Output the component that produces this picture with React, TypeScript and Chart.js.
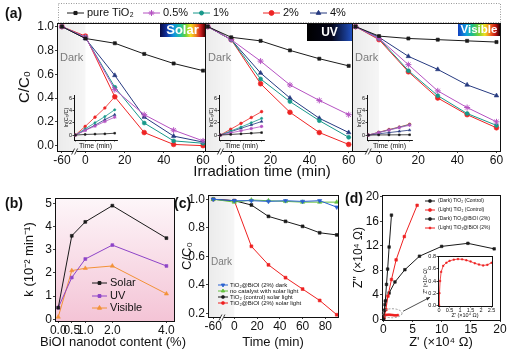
import React, { useEffect, useRef } from 'react';
import { Chart, registerables } from 'chart.js';
import { drawPoint } from 'chart.js/helpers';

Chart.register(...registerables);

const FONT = "'Liberation Sans', Arial, Helvetica, sans-serif";
Chart.defaults.font.family = FONT;
Chart.defaults.color = '#111';

// ---------------- (a) C/C0 vs irradiation time ----------------
const aTimes = [-60, 0, 15, 30, 45, 60];
const aLabels = ['pure TiO₂', '0.5%', '1%', '2%', '4%'];
const aTimeTicks = [-60, 0, 20, 40, 60];
const aTimeTicksNoNeg = [0, 20, 40, 60];
const aCTicks = [0, 0.2, 0.4, 0.6, 0.8, 1.0];

const solarPure = [1.0, 0.9, 0.86, 0.77, 0.69, 0.63];
const solar05 = [1.0, 0.91, 0.47, 0.26, 0.13, 0.04];
const solar1 = [1.0, 0.91, 0.49, 0.19, 0.04, 0.02];
const solar2 = [1.0, 0.92, 0.41, 0.11, 0.01, 0.0];
const solar4 = [1.0, 0.9, 0.59, 0.24, 0.08, 0.03];

const uvPure = [1.0, 0.91, 0.88, 0.8, 0.73, 0.67];
const uv05 = [1.0, 0.89, 0.71, 0.51, 0.38, 0.26];
const uv1 = [1.0, 0.89, 0.56, 0.37, 0.21, 0.07];
const uv2 = [1.0, 0.89, 0.52, 0.28, 0.11, 0.01];
const uv4 = [1.0, 0.89, 0.61, 0.4, 0.23, 0.11];

const visPure = [1.0, 0.92, 0.9, 0.89, 0.88, 0.87];
const vis05 = [1.0, 0.9, 0.68, 0.46, 0.32, 0.2];
const vis1 = [1.0, 0.9, 0.63, 0.42, 0.27, 0.17];
const vis2 = [1.0, 0.89, 0.62, 0.4, 0.26, 0.15];
const vis4 = [1.0, 0.91, 0.75, 0.64, 0.51, 0.42];

// (a) insets: ln(C0/C) vs time
const lnTimes = [0, 15, 30, 45, 60];
const lnTicks = [0, 2, 4, 6];
const solarLnPure = [0, 0.1, 0.15, 0.2, 0.3];
const solarLn05 = [0, 0.75, 1.45, 2.2, 2.9];
const solarLn1 = [0, 1.0, 2.0, 3.0, 4.1];
const solarLn2 = [0, 1.4, 2.9, 4.4, 6.2];
const solarLn4 = [0, 0.8, 1.6, 2.5, 3.3];
const uvLnPure = [0, 0.1, 0.2, 0.3, 0.4];
const uvLn05 = [0, 0.35, 0.7, 1.05, 1.4];
const uvLn1 = [0, 0.65, 1.3, 2.0, 2.7];
const uvLn2 = [0, 0.95, 1.9, 2.85, 3.8];
const uvLn4 = [0, 0.55, 1.1, 1.65, 2.2];
const visLnPure = [0, 0.02, 0.03, 0.04, 0.05];
const visLn05 = [0, 0.4, 0.8, 1.2, 1.6];
const visLn1 = [0, 0.42, 0.85, 1.27, 1.7];
const visLn2 = [0, 0.45, 0.9, 1.3, 1.75];
const visLn4 = [0, 0.2, 0.4, 0.6, 0.8];

// ---------------- (b) rate constant vs BiOI content ----------------
const bContent = [0, 0.5, 1, 2, 4];
const bContentTicks = [0, 0.5, 1, 2, 4];
const bKTicks = [0, 1, 2, 3, 4, 5];
const bLabels = ['Solar', 'UV', 'Visible'];
const bSolar = [0.5, 3.6, 4.2, 4.9, 3.5];
const bUV = [0.5, 1.8, 2.6, 3.2, 2.3];
const bVisible = [0.1, 2.1, 2.2, 2.3, 1.1];

// ---------------- (c) control experiments ----------------
const cTimes = [-60, 0, 15, 30, 45, 60, 75, 90];
const cTimeTicks = [-60, 0, 20, 40, 60, 80];
const cCTicks = [0.2, 0.4, 0.6, 0.8, 1.0];
const cLabels = [
  'TiO₂@BiOI (2%) dark',
  'no catalyst with solar light',
  'TiO₂ (control) solar light',
  'TiO₂@BiOI (2%) solar light',
];
const cDark = [1.0, 0.99, 0.99, 0.985, 0.99, 0.985, 0.99, 0.945];
const cNoCat = [1.0, 0.98, 0.995, 0.99, 0.985, 0.98, 0.98, 0.98];
const cTiO2 = [1.0, 0.99, 0.96, 0.88, 0.845, 0.81, 0.765, 0.75];
const cBiOI = [1.0, 0.99, 0.67, 0.54, 0.45, 0.37, 0.29, 0.19];

// ---------------- (d) Nyquist plots ----------------
const dXTicks = [0, 5, 10, 15, 20];
const dYTicks = [0, 4, 8, 12, 16, 20];
const dInsetXTicks = [0, 0.5, 1, 1.5, 2, 2.5];
const dInsetYTicks = [0, 0.2, 0.4, 0.6, 0.8];
const dLabels = ['(Dark) TiO₂ (Control)', '(Light) TiO₂ (Control)', '(Dark) TiO₂@BiOI (2%)', '(Light) TiO₂@BiOI (2%)'];
const dDarkTiO2X = [0.05, 0.2, 0.35, 0.55, 0.75, 1.0, 1.4];
const dDarkTiO2Y = [0.0, 1.5, 3.0, 5.7, 8.2, 11.8, 17.0];
const dLightTiO2X = [0.15, 0.45, 0.8, 1.4, 2.2, 3.6, 5.8];
const dLightTiO2Y = [0.3, 1.6, 3.8, 6.5, 9.7, 13.5, 18.6];
const dDarkBiOIX = [0.05, 0.3, 1.0, 2.0, 3.7, 6.2, 10.0, 14.5, 19.0];
const dDarkBiOIY = [0.0, 2.4, 4.3, 6.1, 8.1, 10.3, 11.9, 12.4, 11.5];
const dLightBiOIX = [0, 0.02, 0.05, 0.1, 0.2, 0.35, 0.5, 0.7, 0.9, 1.1, 1.3, 1.5, 1.7, 1.9, 2.1, 2.3, 2.5];
const dLightBiOIY = [0, 0.2, 0.4, 0.55, 0.65, 0.7, 0.73, 0.75, 0.76, 0.755, 0.74, 0.72, 0.69, 0.67, 0.655, 0.665, 0.7];

// ---------------- helpers ----------------
const brkA = (t: number) => (t < 0 ? t / 5 : t); // broken time axis (dark period compressed)
const brkC = (t: number) => (t < 0 ? t * 0.308 : t);

type St = { color: string; point: string; r: number; rot?: number };
const aStyles: St[] = [
  { color: '#1a1a1a', point: 'rect', r: 2.2 },
  { color: '#b552c2', point: 'star', r: 3 },
  { color: '#17988a', point: 'circle', r: 2 },
  { color: '#ee2424', point: 'circle', r: 2.4 },
  { color: '#263a80', point: 'triangle', r: 2.6 },
];

function series(label: string, xs: number[], ys: number[], st: St, xf: (v: number) => number = (v) => v, lw = 1) {
  return {
    label,
    data: xs.map((x, i) => ({ x: xf(x), y: ys[i] })),
    showLine: true,
    borderColor: st.color,
    backgroundColor: st.color,
    borderWidth: lw,
    pointStyle: st.point,
    pointRadius: st.r,
    pointHoverRadius: st.r,
    pointBorderWidth: st.point === 'star' ? 1 : 0.6,
    pointRotation: st.rot ?? 0,
  };
}

function geom(cw: number, ch: number, L: number, T: number, R: number, B: number, padL: number, padB: number) {
  return {
    layout: { autoPadding: false, padding: { left: padL, top: T, right: cw - R, bottom: padB } },
    yFit: L - padL,
    xFit: ch - padB - B,
  };
}

function mkScale(axis: 'x' | 'y', o: any) {
  const isX = axis === 'x';
  return {
    type: 'linear',
    position: isX ? 'bottom' : 'left',
    display: o.display !== false,
    min: o.min,
    max: o.max,
    afterBuildTicks: (s: any) => {
      s.ticks = o.ticks.map((v: number) => ({ value: v }));
    },
    afterFit: (s: any) => {
      if (isX) {
        s.height = o.fit;
        s.paddingLeft = 0;
        s.paddingRight = 0;
      } else {
        s.width = o.fit;
        s.paddingTop = 0;
        s.paddingBottom = 0;
      }
    },
    ticks: {
      display: o.labels !== false,
      autoSkip: false,
      maxRotation: 0,
      minRotation: 0,
      padding: o.pad ?? 1,
      font: { family: FONT, size: o.size },
      color: '#111',
      callback: (v: number) => (o.fmt ? o.fmt(v) : String(v)),
    },
    grid: { display: true, drawOnChartArea: false, drawTicks: true, tickLength: o.tl ?? 2, color: '#111', lineWidth: 0.8 },
    border: { display: !!o.border, color: '#111', width: 1 },
    title: o.title
      ? { display: true, text: o.title, font: { family: FONT, size: o.tsize }, color: '#111', padding: 0 }
      : { display: false },
  };
}

const common = {
  responsive: false,
  animation: false,
  devicePixelRatio: 1,
  events: [] as string[],
  plugins: { legend: { display: false }, tooltip: { enabled: false } },
};

const framePlugin = {
  id: 'frameBox',
  afterDatasetsDraw(chart: any) {
    const { ctx, chartArea: a } = chart;
    ctx.save();
    ctx.strokeStyle = '#111';
    ctx.lineWidth = 1;
    const l = Math.round(a.left), t = Math.round(a.top), r = Math.round(a.right), b = Math.round(a.bottom);
    ctx.strokeRect(l + 0.5, t + 0.5, r - l, b - t);
    ctx.restore();
  },
};

const whiteBg = {
  id: 'whiteBg',
  beforeDatasetsDraw(chart: any) {
    const { ctx, chartArea: a } = chart;
    ctx.save();
    ctx.fillStyle = '#fff';
    ctx.fillRect(a.left, a.top, a.right - a.left, a.bottom - a.top);
    ctx.restore();
  },
};

function textPlugin(text: string, x: number, y: number, size: number) {
  return {
    id: 'freeText',
    afterDraw(chart: any) {
      const { ctx } = chart;
      ctx.save();
      ctx.fillStyle = '#111';
      ctx.font = `${size}px ${FONT}`;
      ctx.textAlign = 'center';
      ctx.textBaseline = 'middle';
      ctx.fillText(text, x, y);
      ctx.restore();
    },
  };
}

function darkPlugin(textY: number, size: number) {
  return {
    id: 'darkZone',
    beforeDatasetsDraw(chart: any) {
      const { ctx, chartArea: a, scales } = chart;
      const x0 = scales.x.getPixelForValue(0);
      ctx.save();
      const g = ctx.createLinearGradient(a.left, 0, x0, 0);
      g.addColorStop(0, 'rgba(0,0,0,0.08)');
      g.addColorStop(1, 'rgba(0,0,0,0.035)');
      ctx.fillStyle = g;
      ctx.fillRect(a.left, a.top, x0 - a.left, a.bottom - a.top);
      ctx.fillStyle = '#7a7a7a';
      ctx.font = `${size}px ${FONT}`;
      ctx.textBaseline = 'middle';
      ctx.textAlign = 'left';
      ctx.fillText('Dark', a.left + 3, textY);
      ctx.restore();
    },
  };
}

function breakPlugin(value: number) {
  return {
    id: 'axisBreak',
    afterDraw(chart: any) {
      const { ctx, chartArea: a, scales } = chart;
      const x = scales.x.getPixelForValue(value);
      const y = Math.round(a.bottom) + 0.5;
      ctx.save();
      ctx.fillStyle = '#fff';
      ctx.fillRect(x - 2, y - 1.5, 3, 3);
      ctx.strokeStyle = '#111';
      ctx.lineWidth = 0.8;
      ctx.beginPath();
      ctx.moveTo(x - 4, y + 3);
      ctx.lineTo(x - 1, y - 3);
      ctx.moveTo(x - 1, y + 3);
      ctx.lineTo(x + 2, y - 3);
      ctx.stroke();
      ctx.restore();
    },
  };
}

function legendPlugin(o: { x: number[]; y: number[]; len: number; gap: number; size: number; rScale?: number }) {
  return {
    id: 'customLegend',
    afterDraw(chart: any) {
      const { ctx } = chart;
      chart.data.datasets.forEach((d: any, i: number) => {
        const x = o.x[i], y = o.y[i];
        ctx.save();
        ctx.strokeStyle = d.borderColor;
        ctx.lineWidth = 1;
        ctx.beginPath();
        ctx.moveTo(x, y);
        ctx.lineTo(x + o.len, y);
        ctx.stroke();
        ctx.fillStyle = d.backgroundColor;
        drawPoint(
          ctx,
          { pointStyle: d.pointStyle, radius: d.pointRadius * (o.rScale ?? 1), rotation: d.pointRotation || 0, borderWidth: d.pointBorderWidth },
          x + o.len / 2,
          y
        );
        ctx.fillStyle = '#111';
        ctx.font = `${o.size}px ${FONT}`;
        ctx.textBaseline = 'middle';
        ctx.textAlign = 'left';
        ctx.fillText(d.label, x + o.len + o.gap, y);
        ctx.restore();
      });
    },
  };
}

function bandPlugin(o: { text: string; w: number; h: number; stops: [number, string][]; size: number }) {
  return {
    id: 'band',
    afterDatasetsDraw(chart: any) {
      const { ctx, chartArea: a } = chart;
      const x1 = Math.round(a.right), x0 = x1 - o.w, y0 = Math.round(a.top);
      const g = ctx.createLinearGradient(x0, 0, x1, 0);
      o.stops.forEach(([p, c]) => g.addColorStop(p, c));
      ctx.save();
      ctx.fillStyle = g;
      ctx.fillRect(x0, y0, o.w, o.h);
      ctx.fillStyle = '#fff';
      ctx.font = `bold ${o.size}px ${FONT}`;
      ctx.textAlign = 'center';
      ctx.textBaseline = 'middle';
      ctx.fillText(o.text, x0 + o.w / 2, y0 + o.h / 2 + 0.5);
      ctx.restore();
    },
  };
}

const bands = [
  {
    text: 'Solar', w: 45, h: 14, size: 13,
    stops: [[0, '#0a0a40'], [0.15, '#1030a0'], [0.3, '#1090e0'], [0.45, '#20c0a0'], [0.56, '#60d040'], [0.68, '#f0e020'], [0.8, '#f08020'], [0.9, '#d02020'], [1, '#500000']] as [number, string][],
  },
  {
    text: 'UV', w: 45, h: 18, size: 12,
    stops: [[0, '#000000'], [0.55, '#05061a'], [1, '#2050c0']] as [number, string][],
  },
  {
    text: 'Visible', w: 42, h: 13, size: 11.5,
    stops: [[0, '#1040c0'], [0.2, '#10a0e0'], [0.35, '#20c080'], [0.5, '#80d030'], [0.64, '#f0e020'], [0.78, '#f06020'], [0.9, '#c01010'], [1, '#200000']] as [number, string][],
  },
];

const aTopPlugin = {
  id: 'aTop',
  afterDraw(chart: any) {
    const { ctx } = chart;
    ctx.save();
    ctx.setLineDash([1, 1.5]);
    ctx.strokeStyle = '#999';
    ctx.lineWidth = 1;
    ctx.strokeRect(58.5, 3.5, 442, 19);
    ctx.setLineDash([]);
    ctx.fillStyle = '#111';
    ctx.font = `15px ${FONT}`;
    ctx.textAlign = 'center';
    ctx.textBaseline = 'middle';
    ctx.fillText('Irradiation time (min)', 262, 172);
    ctx.restore();
  },
};

function panelA(kind: number, data: number[][], cw: number, ch: number, L: number, T: number, R: number, B: number, padL: number, xr: [number, number]) {
  const g = geom(cw, ch, L, T, R, B, padL, 0);
  const tv = kind === 0 ? aTimeTicks : aTimeTicksNoNeg;
  const map = new Map(tv.map((t) => [brkA(t), String(t)]));
  const plugins: any[] = [darkPlugin(57.5, 11), bandPlugin(bands[kind]), framePlugin, breakPlugin(-5)];
  if (kind === 0) {
    plugins.push(legendPlugin({ x: [67, 143, 193, 263, 310], y: [13, 13, 13, 13, 13], len: 17, gap: 3, size: 11 }));
    plugins.push(aTopPlugin);
  }
  return {
    type: 'scatter',
    data: { datasets: data.map((s, i) => series(aLabels[i], aTimes, s, aStyles[i], brkA)) },
    options: {
      ...common,
      layout: g.layout,
      scales: {
        x: mkScale('x', { min: xr[0], max: xr[1], ticks: tv.map(brkA), fmt: (v: number) => map.get(v) ?? '', size: 12, fit: g.xFit, tl: 2, pad: 0 }),
        y: mkScale('y', { display: kind === 0, min: -0.045, max: 1.03, ticks: aCTicks, fmt: (v: number) => v.toFixed(1), size: 12, fit: g.yFit, tl: 2, pad: 1, title: 'C/C₀', tsize: 15 }),
      },
    },
    plugins,
  };
}

function insetA(data: number[][], cw: number, ch: number, L: number, T: number, R: number, B: number) {
  const g = geom(cw, ch, L, T, R, B, 7, 1.8);
  return {
    type: 'scatter',
    data: {
      datasets: data.map((s, i) => series(aLabels[i], lnTimes, s, { ...aStyles[i], r: aStyles[i].r * 0.55 }, (v) => v, 0.8)),
    },
    options: {
      ...common,
      layout: g.layout,
      scales: {
        x: mkScale('x', { min: -2, max: 63.5, ticks: lnTimes, labels: false, size: 5, fit: g.xFit, tl: 1.5, title: 'Time (min)', tsize: 7, border: true }),
        y: mkScale('y', { min: -0.8, max: 6.5, ticks: lnTicks, size: 5.5, fit: g.yFit, tl: 1.5, pad: 0.5, title: 'ln(C₀/C)', tsize: 5.5, border: true }),
      },
    },
    plugins: [],
  };
}

const pinkBg = {
  id: 'pinkBg',
  beforeDatasetsDraw(chart: any) {
    const { ctx, chartArea: a } = chart;
    const g = ctx.createLinearGradient(0, a.top, 0, a.bottom);
    g.addColorStop(0, '#fdf6f9');
    g.addColorStop(1, '#f4c4d6');
    ctx.save();
    ctx.fillStyle = g;
    ctx.fillRect(a.left, a.top, a.right - a.left, a.bottom - a.top);
    ctx.restore();
  },
};

function panelB() {
  const g = geom(192, 175, 55, 20, 174, 143, 22, 3.2);
  return {
    type: 'scatter',
    data: {
      datasets: [
        series(bLabels[0], bContent, bSolar, { color: '#1a1a1a', point: 'rect', r: 2 }),
        series(bLabels[1], bContent, bUV, { color: '#8e44c8', point: 'rect', r: 2 }),
        series(bLabels[2], bContent, bVisible, { color: '#f39237', point: 'triangle', r: 2.4 }),
      ],
    },
    options: {
      ...common,
      layout: g.layout,
      scales: {
        x: mkScale('x', { min: -0.12, max: 4.28, ticks: bContentTicks, fmt: (v: number) => v.toFixed(1), size: 12, fit: g.xFit, tl: 2, pad: 0 }),
        y: mkScale('y', { min: -0.073, max: 5.23, ticks: bKTicks, fmt: (v: number) => String(v), size: 12, fit: g.yFit, tl: 2, pad: 1, title: 'k (10⁻² min⁻¹)', tsize: 13 }),
      },
    },
    plugins: [
      pinkBg,
      framePlugin,
      legendPlugin({ x: [92, 92, 92], y: [105, 118, 130], len: 15, gap: 3, size: 11 }),
      textPlugin('BiOI nanodot content (%)', 113, 164, 13),
    ],
  };
}

function panelC() {
  const g = geom(170, 175, 36, 17, 166, 139, 8, 3.2);
  const map = new Map(cTimeTicks.map((t) => [brkC(t), String(t)]));
  return {
    type: 'scatter',
    data: {
      datasets: [
        series(cLabels[0], cTimes, cDark, { color: '#2a62d0', point: 'triangle', r: 2.4, rot: 180 }, brkC),
        series(cLabels[1], cTimes, cNoCat, { color: '#62c03c', point: 'triangle', r: 2.4 }, brkC),
        series(cLabels[2], cTimes, cTiO2, { color: '#1a1a1a', point: 'rect', r: 2 }, brkC),
        series(cLabels[3], cTimes, cBiOI, { color: '#ee2020', point: 'rect', r: 2 }, brkC),
      ],
    },
    options: {
      ...common,
      layout: g.layout,
      scales: {
        x: mkScale('x', { min: -23.1, max: 91.1, ticks: cTimeTicks.map(brkC), fmt: (v: number) => map.get(v) ?? '', size: 12, fit: g.xFit, tl: 2, pad: 0, title: 'Time (min)', tsize: 13 }),
        y: mkScale('y', { min: 0.174, max: 1.03, ticks: cCTicks, fmt: (v: number) => v.toFixed(1), size: 12, fit: g.yFit, tl: 2, pad: 1, title: 'C/C₀', tsize: 13 }),
      },
    },
    plugins: [darkPlugin(84, 10), framePlugin, breakPlugin(-10), legendPlugin({ x: [46, 46, 46, 46], y: [107, 113, 119, 125], len: 10, gap: 2, size: 6, rScale: 0.8 })],
  };
}

const dExtras = {
  id: 'dExtras',
  afterDatasetsDraw(chart: any) {
    const { ctx, scales } = chart;
    const { x, y } = scales;
    const cx = x.getPixelForValue(1.5), cy = y.getPixelForValue(1.0);
    ctx.save();
    ctx.setLineDash([2, 1.5]);
    ctx.strokeStyle = '#888';
    ctx.lineWidth = 0.8;
    ctx.beginPath();
    ctx.ellipse(cx, cy, 10, 4.5, 0, 0, Math.PI * 2);
    ctx.stroke();
    ctx.setLineDash([]);
    const x0 = cx + 11, y0 = cy - 2;
    const x1 = x.getPixelForValue(8.0), y1 = y.getPixelForValue(3.6);
    ctx.strokeStyle = '#222';
    ctx.fillStyle = '#222';
    ctx.beginPath();
    ctx.moveTo(x0, y0);
    ctx.lineTo(x1, y1);
    ctx.stroke();
    const ang = Math.atan2(y1 - y0, x1 - x0);
    ctx.beginPath();
    ctx.moveTo(x1, y1);
    ctx.lineTo(x1 - 4 * Math.cos(ang - 0.4), y1 - 4 * Math.sin(ang - 0.4));
    ctx.lineTo(x1 - 4 * Math.cos(ang + 0.4), y1 - 4 * Math.sin(ang + 0.4));
    ctx.closePath();
    ctx.fill();
    ctx.restore();
  },
};

function panelD() {
  const g = geom(171, 175, 42, 17, 160, 142, 11, 3.2);
  return {
    type: 'scatter',
    data: {
      datasets: [
        series(dLabels[0], dDarkTiO2X, dDarkTiO2Y, { color: '#1a1a1a', point: 'rect', r: 1.8 }),
        series(dLabels[1], dLightTiO2X, dLightTiO2Y, { color: '#ee2020', point: 'rect', r: 1.8 }),
        series(dLabels[2], dDarkBiOIX, dDarkBiOIY, { color: '#1a1a1a', point: 'rect', r: 1.8 }),
        series(dLabels[3], dLightBiOIX, dLightBiOIY, { color: '#ee2020', point: 'rect', r: 1.2 }),
      ],
    },
    options: {
      ...common,
      layout: g.layout,
      scales: {
        x: mkScale('x', { min: -0.22, max: 20, ticks: dXTicks, size: 12, fit: g.xFit, tl: 2, pad: 0, title: "Z' (×10⁴ Ω)", tsize: 13 }),
        y: mkScale('y', { min: -0.1, max: 20.28, ticks: dYTicks, size: 12, fit: g.yFit, tl: 2, pad: 1, title: "Z'' (×10⁴ Ω)", tsize: 12 }),
      },
    },
    plugins: [framePlugin, dExtras, legendPlugin({ x: [85, 85, 85, 85], y: [23, 32, 41, 50], len: 10, gap: 3, size: 5, rScale: 0.9 })],
  };
}

function insetD() {
  const g = geom(80, 70, 18, 6, 72, 56, 3, 1.7);
  return {
    type: 'scatter',
    data: {
      datasets: [series(dLabels[3], dLightBiOIX, dLightBiOIY, { color: '#ee2020', point: 'rect', r: 1 }, (v) => v, 0.8)],
    },
    options: {
      ...common,
      layout: g.layout,
      scales: {
        x: mkScale('x', { min: -0.05, max: 2.52, ticks: dInsetXTicks, size: 5.5, fit: g.xFit, tl: 1.5, pad: 0, title: "Z' (×10⁴ Ω)", tsize: 5.5 }),
        y: mkScale('y', { min: -0.01, max: 0.81, ticks: dInsetYTicks, fmt: (v: number) => v.toFixed(1), size: 5.5, fit: g.yFit, tl: 1.5, pad: 0.5, title: "Z'' (×10⁴ Ω)", tsize: 5 }),
      },
    },
    plugins: [whiteBg, framePlugin],
  };
}

function ChartBox({ left, top, w, h, make }: { left: number; top: number; w: number; h: number; make: () => any }) {
  const ref = useRef<HTMLCanvasElement | null>(null);
  useEffect(() => {
    if (!ref.current) return;
    const chart = new Chart(ref.current, make());
    return () => chart.destroy();
  }, []);
  return <canvas ref={ref} width={w} height={h} style={{ position: 'absolute', left, top, width: w, height: h }} />;
}

function PanelLabel({ text, left, top }: { text: string; left: number; top: number }) {
  return (
    <div style={{ position: 'absolute', left, top, font: `bold 14px ${FONT}`, lineHeight: '14px', color: '#111' }}>{text}</div>
  );
}

export default function App() {
  return (
    <div style={{ position: 'fixed', left: 0, top: 0, width: 511, height: 353, background: '#fff', overflow: 'hidden' }}>
      <ChartBox left={0} top={0} w={511} h={185} make={() => panelA(0, [solarPure, solar05, solar1, solar2, solar4], 511, 185, 57, 23, 205, 151, 16, [-14.5, 61])} />
      <ChartBox left={205} top={0} w={160} h={175} make={() => panelA(1, [uvPure, uv05, uv1, uv2, uv4], 160, 175, 0, 23, 147, 151, 0, [-13.4, 61.7])} />
      <ChartBox left={352} top={0} w={159} h={175} make={() => panelA(2, [visPure, vis05, vis1, vis2, vis4], 159, 175, 0, 23, 148, 151, 0, [-13.8, 61.8])} />
      <ChartBox left={56} top={88} w={64} h={64} make={() => insetA([solarLnPure, solarLn05, solarLn1, solarLn2, solarLn4], 64, 64, 18, 7, 61, 52)} />
      <ChartBox left={201} top={88} w={67} h={64} make={() => insetA([uvLnPure, uvLn05, uvLn1, uvLn2, uvLn4], 67, 64, 18, 7, 63, 52)} />
      <ChartBox left={349} top={88} w={67} h={64} make={() => insetA([visLnPure, visLn05, visLn1, visLn2, visLn4], 67, 64, 18, 7, 63, 52)} />
      <ChartBox left={0} top={178} w={192} h={175} make={panelB} />
      <ChartBox left={172} top={178} w={170} h={175} make={panelC} />
      <ChartBox left={340} top={178} w={171} h={175} make={panelD} />
      <ChartBox left={420} top={250} w={80} h={70} make={insetD} />
      <PanelLabel text="(a)" left={5} top={6} />
      <PanelLabel text="(b)" left={5} top={196} />
      <PanelLabel text="(c)" left={174} top={196} />
      <PanelLabel text="(d)" left={345} top={191} />
    </div>
  );
}
